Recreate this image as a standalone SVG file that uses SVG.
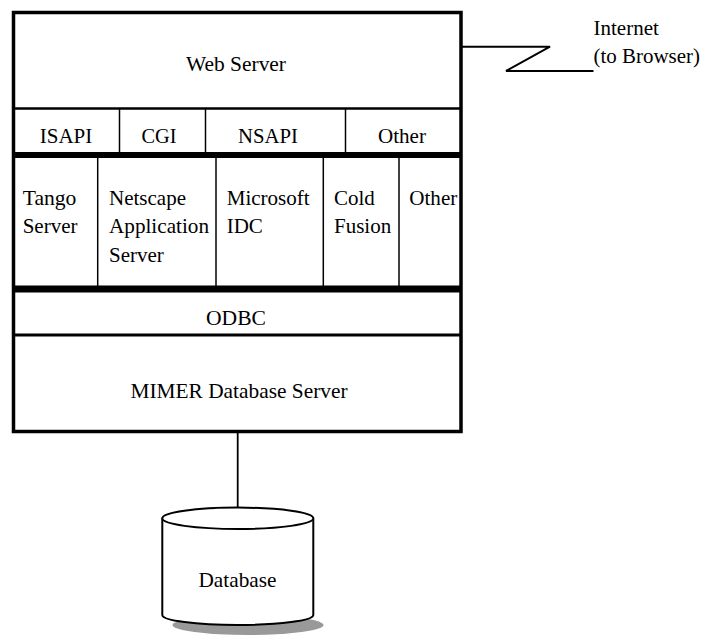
<svg xmlns="http://www.w3.org/2000/svg" width="703" height="635" viewBox="0 0 703 635">
<style>
text{font-family:"Liberation Serif","Times New Roman",serif;font-size:21px;fill:#000}
.c{text-anchor:middle}
.ln{stroke:#000;fill:none}
</style>
<rect width="703" height="635" fill="#fff"/>
<g id="shadow"><ellipse cx="248" cy="625" rx="75.5" ry="10" fill="#999"/></g>
<g id="connectors">
<line class="ln" x1="237.7" y1="433" x2="237.7" y2="508" stroke-width="1.8"/>
<polyline class="ln" points="462,46.7 550,46.7 506,71 593.5,71" stroke-width="2"/>
</g>
<g id="stack">
<rect x="13.5" y="12.5" width="447.5" height="419" fill="#fff" stroke="#000" stroke-width="3.5"/>
<line class="ln" x1="13.5" y1="108.5" x2="461" y2="108.5" stroke-width="2.5"/>
<line class="ln" x1="13.5" y1="155" x2="461" y2="155" stroke-width="6"/>
<line class="ln" x1="13.5" y1="289" x2="461" y2="289" stroke-width="7"/>
<line class="ln" x1="13.5" y1="335" x2="461" y2="335" stroke-width="3"/>
<line class="ln" x1="119.5" y1="108.5" x2="119.5" y2="155" stroke-width="1.5"/>
<line class="ln" x1="205.5" y1="108.5" x2="205.5" y2="155" stroke-width="1.5"/>
<line class="ln" x1="345.5" y1="108.5" x2="345.5" y2="155" stroke-width="1.5"/>
<line class="ln" x1="97.7" y1="155" x2="97.7" y2="289" stroke-width="1.5"/>
<line class="ln" x1="216" y1="155" x2="216" y2="289" stroke-width="1.5"/>
<line class="ln" x1="323.3" y1="155" x2="323.3" y2="289" stroke-width="1.5"/>
<line class="ln" x1="399" y1="155" x2="399" y2="289" stroke-width="1.5"/>
</g>
<g id="web-server"><text class="c" x="236" y="70.7" textLength="100" lengthAdjust="spacingAndGlyphs">Web Server</text></g>
<g id="isapi"><text class="c" x="66" y="143" textLength="52.5" lengthAdjust="spacingAndGlyphs">ISAPI</text></g>
<g id="cgi"><text class="c" x="159" y="143" textLength="35" lengthAdjust="spacingAndGlyphs">CGI</text></g>
<g id="nsapi"><text class="c" x="268" y="143" textLength="60" lengthAdjust="spacingAndGlyphs">NSAPI</text></g>
<g id="other-api"><text class="c" x="402" y="143" textLength="48" lengthAdjust="spacingAndGlyphs">Other</text></g>
<g id="tango"><text x="22.7" y="205" textLength="53.7" lengthAdjust="spacingAndGlyphs">Tango</text><text x="22.7" y="233.3" textLength="54.8" lengthAdjust="spacingAndGlyphs">Server</text></g>
<g id="netscape"><text x="109" y="205" textLength="77" lengthAdjust="spacingAndGlyphs">Netscape</text><text x="109" y="233.3" textLength="100" lengthAdjust="spacingAndGlyphs">Application</text><text x="109" y="261.7" textLength="54.8" lengthAdjust="spacingAndGlyphs">Server</text></g>
<g id="microsoft"><text x="226.7" y="205" textLength="83" lengthAdjust="spacingAndGlyphs">Microsoft</text><text x="226.7" y="233.3" textLength="36.2" lengthAdjust="spacingAndGlyphs">IDC</text></g>
<g id="coldfusion"><text x="334" y="205" textLength="40.8" lengthAdjust="spacingAndGlyphs">Cold</text><text x="334" y="233.3" textLength="57.2" lengthAdjust="spacingAndGlyphs">Fusion</text></g>
<g id="other-app"><text x="409.3" y="205" textLength="48" lengthAdjust="spacingAndGlyphs">Other</text></g>
<g id="odbc"><text class="c" x="236" y="325" textLength="60" lengthAdjust="spacingAndGlyphs">ODBC</text></g>
<g id="mimer"><text class="c" x="239" y="398" textLength="217" lengthAdjust="spacingAndGlyphs">MIMER Database Server</text></g>
<g id="internet"><text x="593.5" y="34.5" textLength="65.3" lengthAdjust="spacingAndGlyphs">Internet</text><text x="593.5" y="63" textLength="106.5" lengthAdjust="spacingAndGlyphs">(to Browser)</text></g>
<g id="database">
<path d="M162.3,518.3 L162.3,615 A75.5,10 0 0 0 313.3,615 L313.3,518.3" fill="#fff" stroke="#000" stroke-width="2"/>
<ellipse cx="237.8" cy="518.3" rx="75.5" ry="10.7" fill="#fff" stroke="#000" stroke-width="2"/>
<text class="c" x="237.5" y="586.7" textLength="78" lengthAdjust="spacingAndGlyphs">Database</text>
</g>
</svg>
